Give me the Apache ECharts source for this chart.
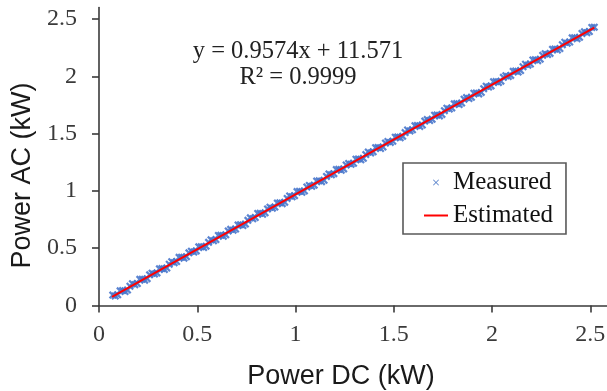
<!DOCTYPE html>
<html>
<head>
<meta charset="utf-8">
<script src="https://cdn.jsdelivr.net/npm/echarts@6/dist/echarts.min.js"></script>
<style>html,body{margin:0;padding:0;background:#fff}#c{width:607px;height:391px}</style>
</head>
<body>
<div id="c"></div>
<script>
// Measured points (Power DC, Power AC), kW
const measuredDC = [0.070,0.095,0.120,0.145,0.170,0.195,0.220,0.245,0.270,0.295,0.320,0.345,0.370,0.395,0.420,0.445,0.470,0.495,0.520,0.545,0.570,0.595,0.620,0.645,0.670,0.695,0.720,0.745,0.770,0.795,0.820,0.845,0.870,0.895,0.920,0.945,0.970,0.995,1.020,1.045,1.070,1.095,1.120,1.145,1.170,1.195,1.220,1.245,1.270,1.295,1.320,1.345,1.370,1.395,1.420,1.445,1.470,1.495,1.520,1.545,1.570,1.595,1.620,1.645,1.670,1.695,1.720,1.745,1.770,1.795,1.820,1.845,1.870,1.895,1.920,1.945,1.970,1.995,2.020,2.045,2.070,2.095,2.120,2.145,2.170,2.195,2.220,2.245,2.270,2.295,2.320,2.345,2.370,2.395,2.420,2.445,2.470,2.495,2.520];
const measuredAC = [0.091,0.093,0.130,0.135,0.190,0.192,0.230,0.234,0.282,0.284,0.322,0.327,0.382,0.384,0.422,0.426,0.474,0.476,0.513,0.518,0.573,0.575,0.613,0.617,0.665,0.667,0.705,0.710,0.765,0.767,0.805,0.809,0.857,0.859,0.896,0.901,0.956,0.958,0.996,1.000,1.048,1.050,1.088,1.093,1.148,1.150,1.188,1.192,1.240,1.241,1.279,1.284,1.339,1.341,1.379,1.383,1.431,1.433,1.471,1.476,1.531,1.533,1.571,1.575,1.622,1.624,1.662,1.667,1.722,1.724,1.762,1.766,1.814,1.816,1.854,1.859,1.914,1.916,1.954,1.957,2.005,2.007,2.045,2.050,2.105,2.107,2.145,2.149,2.197,2.199,2.237,2.242,2.297,2.299,2.336,2.340,2.388,2.390,2.428];
const measuredDC2 = [0.0825,0.1075,0.1325,0.1575,0.1825,0.2075,0.2325,0.2575,0.2825,0.3075,0.3325,0.3575,0.3825,0.4075,0.4325,0.4575,0.4825,0.5075,0.5325,0.5575,0.5825,0.6075,0.6325,0.6575,0.6825,0.7075,0.7325,0.7575,0.7825,0.8075,0.8325,0.8575,0.8825,0.9075,0.9325,0.9575,0.9825,1.0075,1.0325,1.0575,1.0825,1.1075,1.1325,1.1575,1.1825,1.2075,1.2325,1.2575,1.2825,1.3075,1.3325,1.3575,1.3825,1.4075,1.4325,1.4575,1.4825,1.5075,1.5325,1.5575,1.5825,1.6075,1.6325,1.6575,1.6825,1.7075,1.7325,1.7575,1.7825,1.8075,1.8325,1.8575,1.8825,1.9075,1.9325,1.9575,1.9825,2.0075,2.0325,2.0575,2.0825,2.1075,2.1325,2.1575,2.1825,2.2075,2.2325,2.2575,2.2825,2.3075,2.3325,2.3575,2.3825,2.4075,2.4325,2.4575,2.4825,2.5075];
const measuredAC2 = [0.083,0.128,0.122,0.168,0.182,0.228,0.221,0.268,0.274,0.320,0.314,0.360,0.374,0.420,0.413,0.460,0.466,0.512,0.505,0.551,0.565,0.611,0.604,0.651,0.657,0.703,0.697,0.743,0.757,0.803,0.796,0.843,0.849,0.894,0.888,0.934,0.948,0.994,0.987,1.034,1.040,1.086,1.080,1.126,1.140,1.186,1.179,1.226,1.232,1.277,1.271,1.317,1.331,1.377,1.370,1.417,1.423,1.469,1.463,1.509,1.523,1.569,1.562,1.609,1.614,1.660,1.654,1.700,1.714,1.760,1.753,1.800,1.806,1.852,1.846,1.892,1.906,1.952,1.945,1.991,1.997,2.043,2.037,2.083,2.097,2.143,2.136,2.183,2.189,2.235,2.229,2.275,2.289,2.335,2.328,2.374,2.380,2.426];
// Estimated (fitted) line endpoints
const estimatedDC = [0.066, 2.520];
const estimatedAC = [0.075, 2.424];
const tickValues = [0, 0.5, 1, 1.5, 2, 2.5];
const equationText = 'y = 0.9574x + 11.571';
const r2Text = 'R² = 0.9999';

const crossPath = 'path://M0,2L2,0L5,3L8,0L10,2L7,5L10,8L8,10L5,7L2,10L0,8L3,5Z';
const legendCross = 'path://M0,1L1,0L5,4L9,0L10,1L6,5L10,9L9,10L5,6L1,10L0,9L4,5Z';
const linePath = 'path://M0,0H24V2H0Z';
const serif = '"Liberation Serif","Times New Roman",serif';
const sans = '"Liberation Sans",Arial,sans-serif';

const measuredData = measuredDC.map((x, i) => [x, measuredAC[i]])
  .concat(measuredDC2.map((x, i) => [x, measuredAC2[i]]));

const chart = echarts.init(document.getElementById('c'), null, {renderer: 'canvas'});
const axisCommon = {
  type: 'value', min: 0, max: 2.6,
  splitLine: {show: false},
  axisLine: {show: true, lineStyle: {color: '#3a3a3a', width: 1.6}},
  axisTick: {show: true, inside: false, length: 7, lineStyle: {color: '#3a3a3a', width: 1.6}, customValues: tickValues},
  axisLabel: {color: '#3a3a3a', fontFamily: serif, fontSize: 24, customValues: tickValues, formatter: v => String(v)},
  nameLocation: 'middle'
};
chart.setOption({
  animation: false,
  backgroundColor: '#fff',
  grid: {left: 99, right: -3, top: 7.5, bottom: 85.5, containLabel: false, outerBoundsMode: 'none'},
  xAxis: Object.assign({}, axisCommon, {
    name: 'Power DC (kW)', nameGap: 58,
    nameTextStyle: {fontFamily: sans, fontSize: 27, color: '#1a1a1a', padding: [0, 27, 0, 0]},
    axisLabel: Object.assign({}, axisCommon.axisLabel, {margin: 17})
  }),
  yAxis: Object.assign({}, axisCommon, {
    name: 'Power AC (kW)', nameGap: 59,
    nameTextStyle: {fontFamily: sans, fontSize: 27, color: '#1a1a1a', padding: [0, 38, 0, 0]},
    axisLabel: Object.assign({}, axisCommon.axisLabel, {margin: 22})
  }),
  legend: {
    orient: 'vertical', left: 403, top: 163,
    backgroundColor: '#fff', borderColor: '#595959', borderWidth: 1.6,
    padding: [7, 13, 6, 21], itemGap: 8, itemWidth: 24, itemHeight: 6,
    textStyle: {fontFamily: serif, fontSize: 25, color: '#111'},
    data: [
      {name: 'Measured', icon: legendCross, itemStyle: {color: '#4472C4'}},
      {name: 'Estimated', icon: linePath, itemStyle: {color: '#ff0000'}}
    ]
  },
  graphic: [
    {type: 'text', x: 298, y: 52, style: {text: equationText, font: '24.5px ' + serif, fill: '#222', align: 'center', verticalAlign: 'middle'}},
    {type: 'text', x: 298, y: 78, style: {text: r2Text, font: '24.5px ' + serif, fill: '#222', align: 'center', verticalAlign: 'middle'}}
  ],
  series: [
    {
      name: 'Measured', type: 'scatter', symbol: crossPath, symbolSize: 8,
      itemStyle: {color: '#4a78cc', opacity: 0.9},
      data: measuredData,
      z: 2
    },
    {
      name: 'Estimated', type: 'line', symbol: 'none',
      lineStyle: {color: '#ff0000', width: 2},
      data: estimatedDC.map((x, i) => [x, estimatedAC[i]]),
      z: 3
    }
  ]
});
</script>
</body>
</html>
